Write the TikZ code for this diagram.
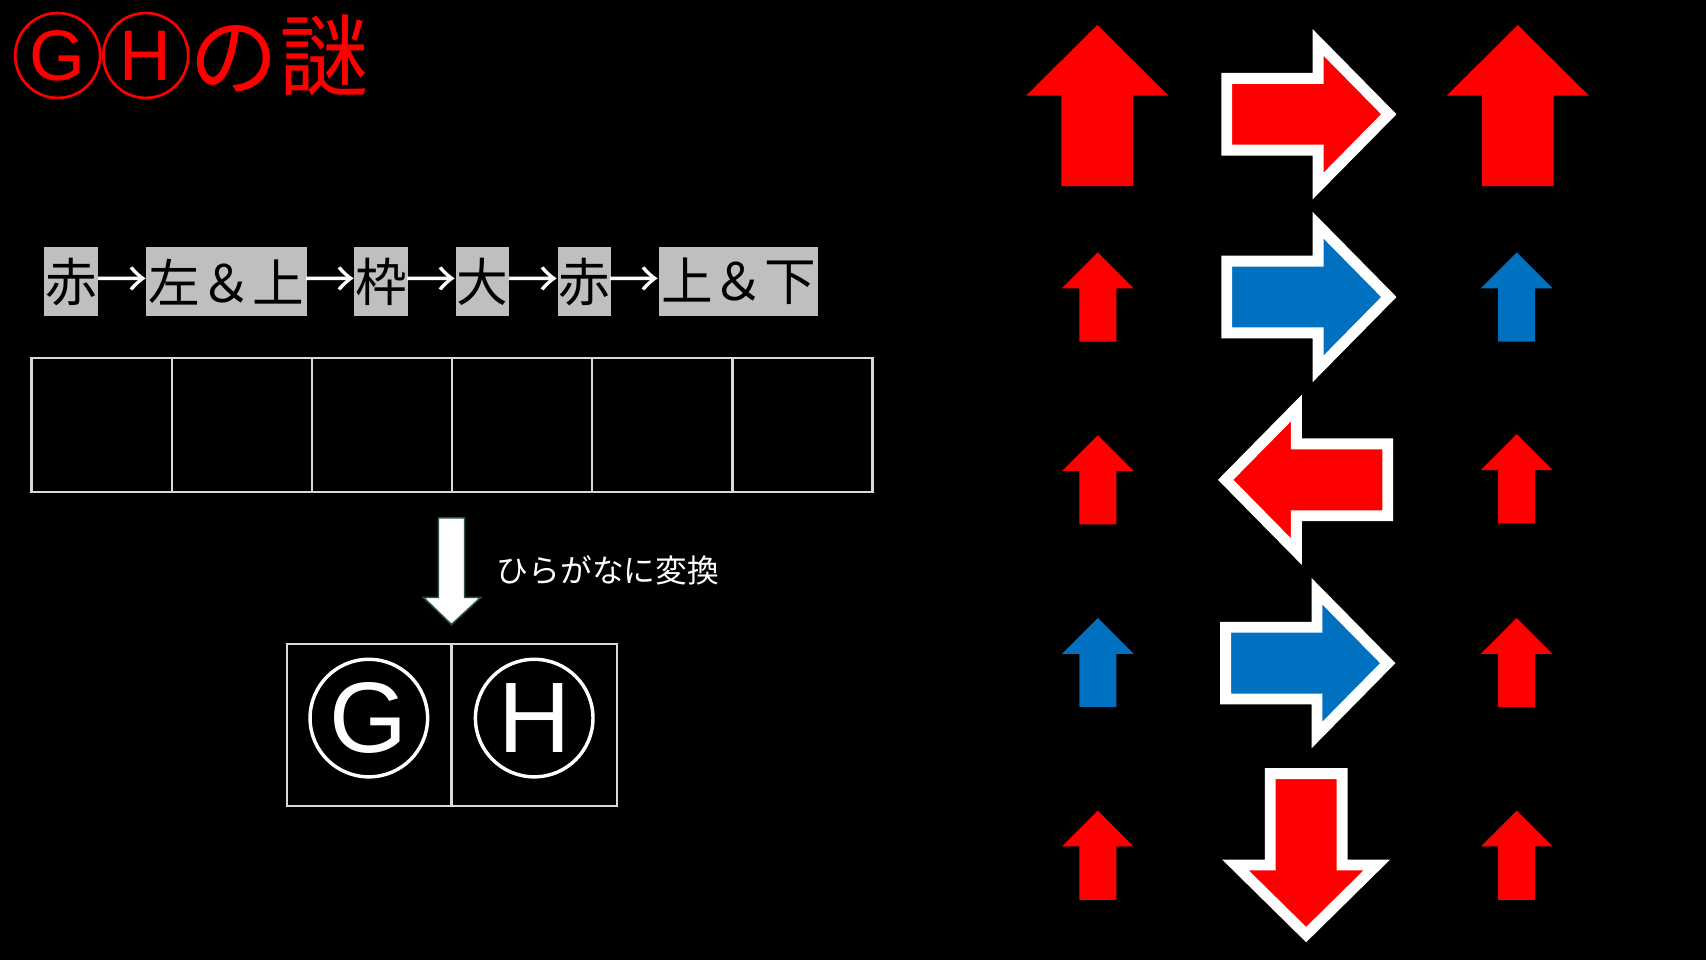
\documentclass[tikz,border=0pt]{standalone}
\usepackage{fontspec}
\setmainfont{Noto Sans CJK JP}
\newfontfamily\latinsans{Liberation Sans}
\definecolor{pptred}{RGB}{255,0,0}
\definecolor{pptblue}{RGB}{0,112,192}
\definecolor{boxgray}{RGB}{191,191,191}
\definecolor{linegray}{RGB}{217,217,217}
\definecolor{edgegreen}{RGB}{40,80,70}
\begin{document}
\begin{tikzpicture}[x=0.01cm,y=-0.01cm,
  seqfont/.style={font=\fontsize{13.5pt}{16pt}\selectfont},
  gbox/.style={seqfont, fill=boxgray, text=black, inner sep=0pt, minimum height=0.63cm},
  sarrow/.style={seqfont, text=white, inner sep=0pt},
  cell/.style={draw=linegray, line width=0.6pt, minimum width=1.288cm, minimum height=1.23cm, inner sep=0pt},
  rcell/.style={draw=linegray, line width=0.6pt, minimum height=1.49cm, inner sep=0pt},
  titlecirc/.style={circle, draw=pptred, text=pptred, line width=0.7pt, minimum size=0.78cm, inner sep=0pt, font=\latinsans\fontsize{18.7pt}{20pt}\selectfont},
  bigcirc/.style={circle, draw=white, text=white, line width=0.9pt, minimum size=1.08cm, inner sep=0pt, font=\latinsans\fontsize{26.2pt}{28pt}\selectfont},
  outlined/.style={draw=white, line width=2.85pt, miter limit=10},
  smallup/.pic={\path[pic actions] (0,-41) -- (33,-8) -- (17,-8) -- (17,41) -- (-17,41) -- (-17,-8) -- (-33,-8) -- cycle;},
  bigup/.pic={\path[pic actions] (0,-74) -- (65.5,-9) -- (33,-9) -- (33,74) -- (-33,74) -- (-33,-9) -- (-65.5,-9) -- cycle;},
  bigright/.pic={\path[pic actions] (-74,-33) -- (10,-33) -- (10,-66) -- (75,0) -- (10,66) -- (10,33) -- (-74,33) -- cycle;},
  bigleft/.pic={\path[pic actions] (74,-33) -- (-10,-33) -- (-10,-66) -- (-75,0) -- (-10,66) -- (-10,33) -- (74,33) -- cycle;},
  bigdown/.pic={\path[pic actions] (-33,-74) -- (33,-74) -- (33,10) -- (65,10) -- (0,74) -- (-65,10) -- (-33,10) -- cycle;}
]
\fill[black] (0,0) rectangle (1568,882);
\useasboundingbox (0,0) rectangle (1568,882);

% title
\node[titlecirc] (tg) at (53,51) {G};
\node[titlecirc] (th) at (134,51) {H};
\node[anchor=west, text=pptred, font=\fontsize{23.3pt}{28pt}\selectfont, inner sep=0pt] (title) at (173.8,51) {の謎};

% sequence
\node[gbox, minimum width=0.493cm] (s1) at (65.35,258.9) {赤};
\node[sarrow] (a1) at (112.25,259.5) {→};
\node[gbox, minimum width=1.472cm] (s2) at (208.1,258.9) {左＆上};
\node[sarrow] (a2) at (303.75,259.5) {→};
\node[gbox, minimum width=0.488cm] (s3) at (350.2,258.9) {枠};
\node[sarrow] (a3) at (396.8,259.5) {→};
\node[gbox, minimum width=0.485cm] (s4) at (443.25,258.9) {大};
\node[sarrow] (a4) at (490.2,259.5) {→};
\node[gbox, minimum width=0.483cm] (s5) at (537.05,258.9) {赤};
\node[sarrow] (a5) at (583.45,259.5) {→};
\node[gbox, minimum width=1.464cm] (s6) at (678.9,258.9) {上＆下};

% answer cells
\node[cell] (c1) at (93.5,390.5) {};
\node[cell] (c2) at (222.3,390.5) {};
\node[cell] (c3) at (351.1,390.5) {};
\node[cell] (c4) at (479.9,390.5) {};
\node[cell] (c5) at (608.7,390.5) {};
\node[cell] (c6) at (737.5,390.5) {};

% conversion arrow
\filldraw[fill=white, draw=edgegreen, line width=0.4pt]
  (403,476) -- (427,476) -- (427,549) -- (442,549) -- (415,574) -- (389,549) -- (403,549) -- cycle;
\node[anchor=west, text=white, font=\fontsize{8.3pt}{10pt}\selectfont, inner sep=0pt] (conv) at (456,524) {ひらがなに変換};

% result box
\node[rcell, minimum width=1.51cm] (r1) at (339.5,666.5) {};
\node[rcell, minimum width=1.52cm] (r2) at (491,666.5) {};
\node[bigcirc] (g) at (339,660) {G};
\node[bigcirc] (h) at (491,660) {H};

% right side arrows
\pic[fill=pptred] at (1008.5,97) {bigup};
\pic[fill=pptred] at (1395,97) {bigup};
\pic[fill=pptred, outlined] at (1201.5,105) {bigright};

\pic[fill=pptred] at (1009,273) {smallup};
\pic[fill=pptblue, outlined] at (1201.5,273) {bigright};
\pic[fill=pptblue] at (1394,273) {smallup};

\pic[fill=pptred] at (1009,441) {smallup};
\pic[fill=pptred, outlined] at (1201.5,441) {bigleft};
\pic[fill=pptred] at (1394,440) {smallup};

\pic[fill=pptblue] at (1009,609) {smallup};
\pic[fill=pptblue, outlined] at (1200.5,609.5) {bigright};
\pic[fill=pptred] at (1394,609) {smallup};

\pic[fill=pptred] at (1009,786) {smallup};
\pic[fill=pptred, outlined] at (1200.5,785) {bigdown};
\pic[fill=pptred] at (1394,786) {smallup};
\end{tikzpicture}
\end{document}
